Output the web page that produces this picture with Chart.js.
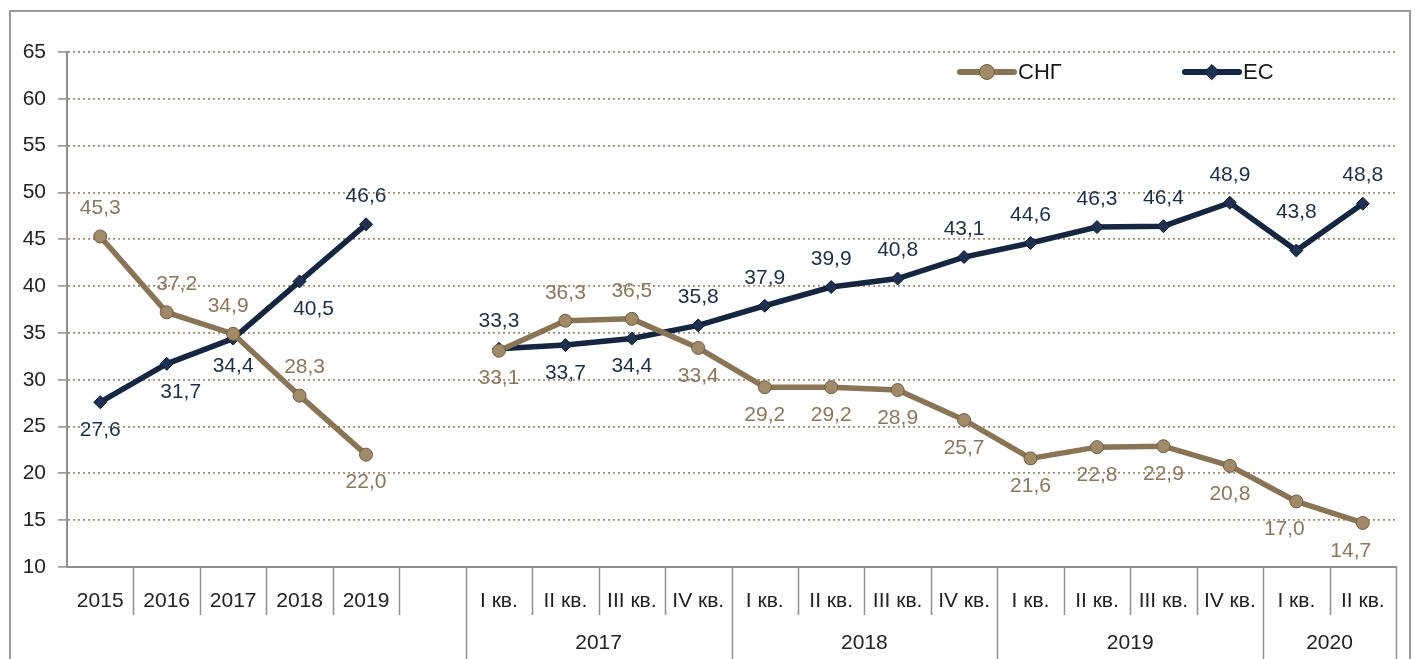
<!DOCTYPE html>
<html>
<head>
<meta charset="utf-8">
<script src="https://cdn.jsdelivr.net/npm/chart.js@4.4.1/dist/chart.umd.min.js"></script>
<style>
  html, body { margin: 0; padding: 0; background: #fff; }
  #wrap { width: 1415px; height: 659px; }
</style>
</head>
<body>
<div id="wrap"><canvas id="c" width="1415" height="659"></canvas></div>
<script>
const categories = [
  '2015', '2016', '2017', '2018', '2019', '',
  'I кв.', 'II кв.', 'III кв.', 'IV кв.',
  'I кв.', 'II кв.', 'III кв.', 'IV кв.',
  'I кв.', 'II кв.', 'III кв.', 'IV кв.',
  'I кв.', 'II кв.'
];
const groupLabels = ['2017', '2018', '2019', '2020'];
const groupStarts = [6, 10, 14, 18];

const cisValues = [45.3, 37.2, 34.9, 28.3, 22.0, null,
  33.1, 36.3, 36.5, 33.4, 29.2, 29.2, 28.9, 25.7, 21.6, 22.8, 22.9, 20.8, 17.0, 14.7];
const euValues = [27.6, 31.7, 34.4, 40.5, 46.6, null,
  33.3, 33.7, 34.4, 35.8, 37.9, 39.9, 40.8, 43.1, 44.6, 46.3, 46.4, 48.9, 43.8, 48.8];

// where each value label sits: 1 = above the point, -1 = below
const cisLabelSide = [1, 1, 1, 1, -1, 0, -1, 1, 1, -1, -1, -1, -1, -1, -1, -1, -1, -1, -1, -1];
const euLabelSide = [-1, -1, -1, -1, 1, 0, 1, -1, -1, 1, 1, 1, 1, 1, 1, 1, 1, 1, 1, 1];
const cisLabelShift = [0, 10, -5, 5, 0, 0, 0, 0, 0, 0, 0, 0, 0, 0, 0, 0, 0, 0, -12, -12];
const euLabelShift = [0, 14, 0, 14, 0, 0, 0, 0, 0, 0, 0, 0, 0, 0, 0, 0, 0, 0, 0, 0];

const yTicks = [10, 15, 20, 25, 30, 35, 40, 45, 50, 55, 60, 65];

const cisColor = '#8a7456';
const cisText = '#8b775c';
const euColor = '#142640';
const euText = '#1d2d48';
const axisGrey = '#8f8f8f';
const FONT = '"Liberation Sans", Arial, sans-serif';

const fmt = (v) => v.toFixed(1).replace('.', ',');

const frame = {
  id: 'frame',
  beforeDraw(chart) {
    const ctx = chart.ctx;
    ctx.save();
    ctx.strokeStyle = '#9a9a9a';
    ctx.lineWidth = 2;
    ctx.strokeRect(10, 11, 1400, 680);
    ctx.restore();
  }
};

const xRows = {
  id: 'xRows',
  afterDraw(chart) {
    const ctx = chart.ctx;
    const x = chart.scales.x;
    const top = chart.chartArea.bottom;
    const n = categories.length;
    const step = (x.getPixelForValue(1) - x.getPixelForValue(0));
    ctx.save();
    ctx.strokeStyle = axisGrey;
    ctx.lineWidth = 1.5;
    for (let i = 1; i <= n; i++) {
      const px = Math.round(x.getPixelForValue(i) - step / 2) + 0.5;
      const long = i === n || groupStarts.includes(i);
      ctx.beginPath();
      ctx.moveTo(px, top);
      ctx.lineTo(px, long ? 660 : 615);
      ctx.stroke();
    }
    ctx.fillStyle = '#222';
    ctx.font = '21px ' + FONT;
    ctx.textAlign = 'center';
    ctx.textBaseline = 'middle';
    groupLabels.forEach((g, k) => {
      const a = groupStarts[k];
      const b = k + 1 < groupStarts.length ? groupStarts[k + 1] - 1 : n - 1;
      const cx = (x.getPixelForValue(a) + x.getPixelForValue(b)) / 2;
      ctx.fillText(g, cx, 643);
    });
    ctx.restore();
  }
};

const valueLabels = {
  id: 'valueLabels',
  afterDatasetsDraw(chart) {
    const ctx = chart.ctx;
    const sets = [
      { idx: 0, vals: cisValues, side: cisLabelSide, shift: cisLabelShift, color: cisText },
      { idx: 1, vals: euValues, side: euLabelSide, shift: euLabelShift, color: euText }
    ];
    ctx.save();
    ctx.font = '21px ' + FONT;
    ctx.textAlign = 'center';
    ctx.textBaseline = 'middle';
    sets.forEach((s) => {
      const meta = chart.getDatasetMeta(s.idx);
      meta.data.forEach((pt, i) => {
        const v = s.vals[i];
        if (v === null) return;
        ctx.fillStyle = s.color;
        let off = 28;
        if (s.idx === 1 && i === 18) off = 38;
        ctx.fillText(fmt(v), pt.x + s.shift[i], pt.y - s.side[i] * off);
      });
    });
    ctx.restore();
  }
};

const lineLegend = {
  id: 'lineLegend',
  afterDraw(chart) {
    const ctx = chart.ctx;
    const items = [
      { ds: 0, x: 960, y: 72 },
      { ds: 1, x: 1185, y: 72 }
    ];
    ctx.save();
    items.forEach((it) => {
      const ds = chart.data.datasets[it.ds];
      ctx.strokeStyle = ds.borderColor;
      ctx.lineWidth = 6;
      ctx.lineCap = 'round';
      ctx.beginPath();
      ctx.moveTo(it.x, it.y);
      ctx.lineTo(it.x + 54, it.y);
      ctx.stroke();
      ctx.fillStyle = ds.pointBackgroundColor;
      ctx.strokeStyle = ds.pointBorderColor;
      ctx.lineWidth = 1;
      Chart.helpers.drawPoint(ctx, { pointStyle: ds.pointStyle, radius: ds.pointRadius + 1, borderWidth: 1 }, it.x + 27, it.y);
      ctx.fillStyle = '#1a1a1a';
      ctx.font = '22px ' + FONT;
      ctx.textAlign = 'left';
      ctx.textBaseline = 'middle';
      ctx.fillText(ds.label, it.x + 58, it.y + 1);
    });
    ctx.restore();
  }
};

new Chart(document.getElementById('c'), {
  type: 'line',
  data: {
    labels: categories,
    datasets: [
      {
        label: 'СНГ',
        data: cisValues,
        borderColor: cisColor,
        borderWidth: 5.5,
        pointStyle: 'circle',
        pointRadius: 6.5,
        pointBackgroundColor: '#a08a68',
        pointBorderColor: '#6f5d44',
        pointBorderWidth: 1,
        spanGaps: false,
        tension: 0
      },
      {
        label: 'ЕС',
        data: euValues,
        borderColor: euColor,
        borderWidth: 5.5,
        pointStyle: 'rectRot',
        pointRadius: 6.5,
        pointBackgroundColor: '#1f3152',
        pointBorderColor: '#0d1a2c',
        pointBorderWidth: 1,
        spanGaps: false,
        tension: 0
      }
    ]
  },
  options: {
    responsive: false,
    animation: false,
    layout: { padding: { left: 0, top: 52, right: 19, bottom: 0 } },
    plugins: {
      legend: { display: false },
      tooltip: { enabled: false }
    },
    scales: {
      x: {
        type: 'category',
        offset: true,
        grid: { display: true, drawOnChartArea: false, drawTicks: false },
        border: { display: true, color: axisGrey, width: 2 },
        ticks: {
          autoSkip: false,
          maxRotation: 0,
          padding: 22,
          color: '#222',
          font: { family: FONT, size: 21 }
        },
        afterFit(scale) { scale.height = 92; }
      },
      y: {
        min: 10,
        max: 65,
        afterBuildTicks(scale) { scale.ticks = yTicks.map((v) => ({ value: v })); },
        grid: {
          color: 'rgba(150,125,95,0.9)',
          lineWidth: 1.8,
          tickBorderDash: [],
          tickColor: axisGrey,
          tickLength: 9,
          tickWidth: 1.5
        },
        border: { display: true, color: axisGrey, width: 2, dash: [2, 3] },
        ticks: {
          padding: 12,
          color: '#222',
          font: { family: FONT, size: 21 }
        },
        afterFit(scale) { scale.width = 67; }
      }
    }
  },
  plugins: [frame, xRows, valueLabels, lineLegend]
});
</script>
</body>
</html>
